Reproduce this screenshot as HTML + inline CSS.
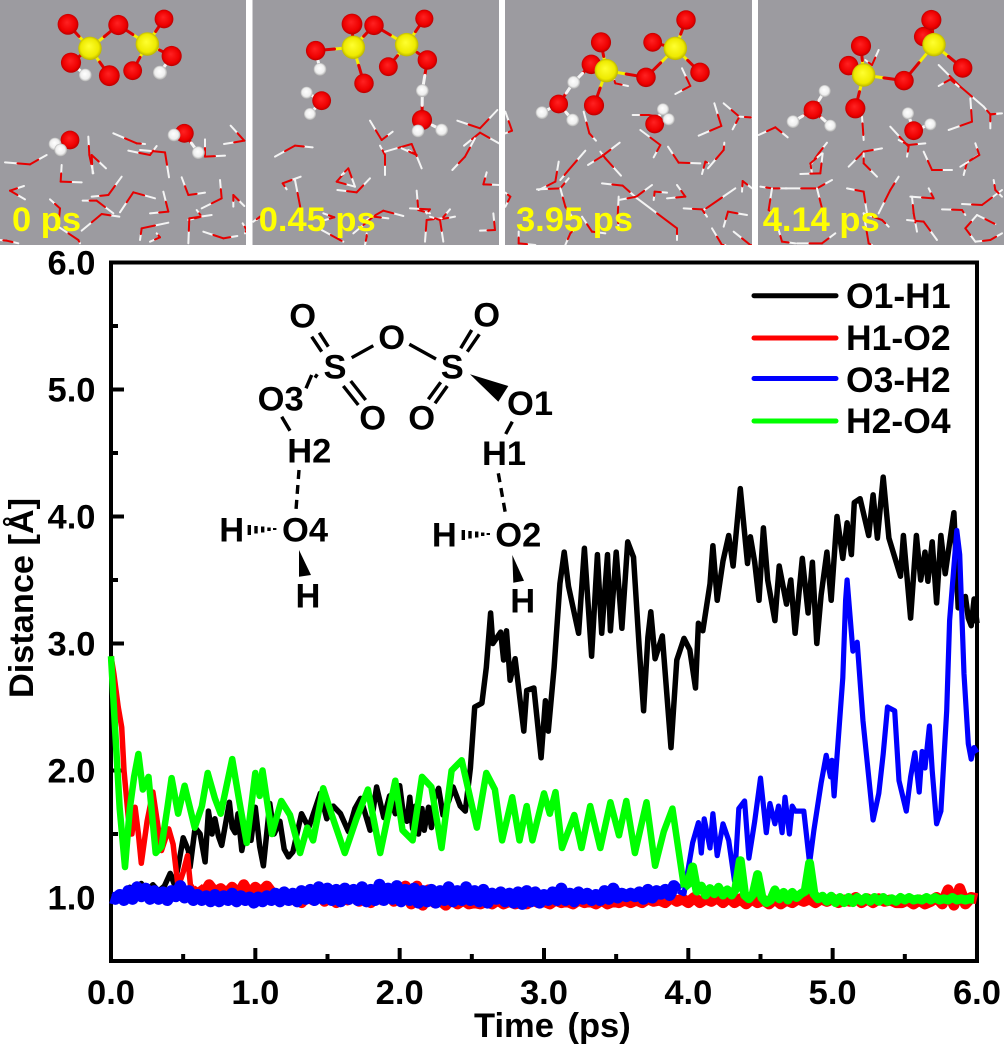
<!DOCTYPE html>
<html lang="en">
<head>
<meta charset="utf-8">
<title>Distance vs time with MD snapshots</title>
<style>
html,body{margin:0;padding:0;background:#fff;}
#stage{display:block;width:1004px;height:1046px;}
text{font-family:"Liberation Sans",sans-serif;font-weight:bold;fill:#000;}
</style>
</head>
<body>
<svg id="stage" xmlns="http://www.w3.org/2000/svg" width="1004" height="1046" viewBox="0 0 1004 1046">
<defs>
<radialGradient id="ballR" cx="0.5" cy="0.5" r="0.55" fx="0.45" fy="0.4"><stop offset="0" stop-color="#ff2222"/><stop offset="0.7" stop-color="#ee0000"/><stop offset="1" stop-color="#a80000"/></radialGradient>
<radialGradient id="ballY" cx="0.5" cy="0.5" r="0.55" fx="0.45" fy="0.4"><stop offset="0" stop-color="#ffff30"/><stop offset="0.7" stop-color="#eeea00"/><stop offset="1" stop-color="#a8a200"/></radialGradient>
<radialGradient id="ballW" cx="0.5" cy="0.5" r="0.55" fx="0.45" fy="0.4"><stop offset="0" stop-color="#ffffff"/><stop offset="0.65" stop-color="#eeeeee"/><stop offset="1" stop-color="#999999"/></radialGradient>
</defs>

<g id="panels"></g>

<g id="plot">
<rect x="111" y="262.5" width="866" height="698.5" fill="none" stroke="#000" stroke-width="4"/>
<g id="ticks"></g>
<g id="series"></g>
<text transform="translate(33 698) rotate(-90)" font-size="34.3">Distance [Å]</text>
<text x="474" y="1037" font-size="34.5" word-spacing="4">Time (ps)</text>
</g>

<g id="legend">
<line x1="754" y1="295.7" x2="836" y2="295.7" stroke="#000" stroke-width="5" stroke-linecap="round"/>
<text x="846" y="308" font-size="35.5">O1-H1</text>
<line x1="754" y1="338" x2="836" y2="338" stroke="#ff0000" stroke-width="5" stroke-linecap="round"/>
<text x="846" y="350" font-size="35.5">H1-O2</text>
<line x1="754" y1="378.5" x2="836" y2="378.5" stroke="#0000ff" stroke-width="5" stroke-linecap="round"/>
<text x="846" y="392" font-size="35.5">O3-H2</text>
<line x1="754" y1="421" x2="836" y2="421" stroke="#00ff00" stroke-width="5" stroke-linecap="round"/>
<text x="846" y="433" font-size="35.5">H2-O4</text>
</g>

<g id="structure" font-size="34.5" text-anchor="middle">
<g stroke="#000" stroke-width="3.4" fill="none">
<path d="M311.7 336.7L321.7 351.7M319.3 332.7L328.3 346.7M351.7 357.7L373.3 345.7M409.3 344.3L436 359M460.7 348.3L471.7 330M467.3 351.7L479.3 334.3M343.3 386L358.3 405M350.7 381L365.7 400M428.3 399.3L440.7 382.3M435 403.3L447.3 386M281.7 416.7L290 430.7M512.3 421.7L505.7 434"/>
<path d="M299 470L296 510M498.3 473.3L505.7 515" stroke-dasharray="9 6"/>
<path d="M306 388.3L311.7 375M315 377.7L317.3 374.3"/>
<path d="M249.3 525V535M256 526V533.5M262.7 526.5V532.5M269 527.5V531M274.7 528V530M463.3 530V540M470 531V538.5M476.7 531.5V537.5M482.7 532.5V536M488.3 533V535"/>
</g>
<polygon points="470,374.3 508.3,386 498.3,401.7" fill="#000"/>
<polygon points="299,550 299,576.7 311,575" fill="#000"/>
<polygon points="512.3,555 513.3,582.7 524,580.7" fill="#000"/>
<text x="302.7" y="327.5">O</text>
<text x="335" y="378.5">S</text>
<text x="391.7" y="349">O</text>
<text x="452.3" y="378.5">S</text>
<text x="486.7" y="326.5">O</text>
<text x="372.7" y="429.5">O</text>
<text x="421.7" y="429.5">O</text>
<text x="280.7" y="410.5">O3</text>
<text x="530" y="415">O1</text>
<text x="309.3" y="462.5">H2</text>
<text x="504" y="465">H1</text>
<text x="305" y="541.5">O4</text>
<text x="231.7" y="541.5">H</text>
<text x="308" y="607.5">H</text>
<text x="518.3" y="546.5">O2</text>
<text x="444.3" y="546.5">H</text>
<text x="522.7" y="612.5">H</text>
</g>

<script>
// ---------- chart data ----------
const xTickValues = [0, 1, 2, 3, 4, 5, 6];
const xTickLabels = ["0.0", "1.0", "2.0", "3.0", "4.0", "5.0", "6.0"];
const xMinorTicks = [0.5, 1.5, 2.5, 3.5, 4.5, 5.5];
const yTickValues = [1, 2, 3, 4, 5, 6];
const yTickLabels = ["1.0", "2.0", "3.0", "4.0", "5.0", "6.0"];
const yMinorTicks = [1.5, 2.5, 3.5, 4.5, 5.5];

const blackTimes = [
0.00,0.05,0.10,0.13,0.17,0.21,0.25,0.29,0.33,0.37,0.41,0.44,0.47,
0.50,0.536,0.548,0.583,0.617,0.652,0.675,0.70,0.72,0.745,0.767,0.82,0.84,0.86,0.88,0.906,0.94,0.97,1.00,1.03,1.056,1.10,1.13,1.17,1.20,1.23,1.26,1.32,1.37,1.45,1.495,1.54,1.59,1.645,1.69,1.73,1.795,1.84,1.89,1.93,1.97,
2.00,2.025,2.05,2.07,2.09,2.11,2.13,2.155,2.17,2.20,2.22,2.24,2.27,2.30,2.34,2.37,2.42,2.455,2.49,2.52,2.57,2.60,2.63,2.645,2.70,2.72,2.74,2.765,2.80,2.86,2.88,2.93,2.98,3.01,3.03,3.07,3.11,3.14,3.17,3.24,3.28,3.33,3.37,3.40,3.44,3.46,3.50,3.54,3.58,3.62,3.66,3.69,3.72,3.74,3.77,3.82,3.88,3.92,3.97,4.01,4.05,
4.07,4.10,4.15,4.17,4.20,4.24,4.28,4.31,4.36,4.41,4.43,4.46,4.49,4.52,4.55,4.60,4.63,4.68,4.71,4.74,4.79,4.83,4.86,4.89,4.92,4.96,4.99,5.03,5.07,5.10,5.13,5.15,5.19,5.25,5.28,5.31,5.35,5.39,5.47,5.49,5.54,5.58,5.61,5.64,5.66,5.69,5.72,5.75,5.78,5.84,5.87,5.92,5.94,5.96,5.98,6.00];
const blackValues = [
1.00,1.03,0.98,1.08,1.02,1.11,1.05,1.10,1.05,1.09,1.19,1.10,1.27,
1.47,1.37,1.24,1.55,1.50,1.28,1.68,1.50,1.62,1.48,1.41,1.75,1.55,1.51,1.66,1.37,1.58,1.45,1.71,1.40,1.25,1.74,1.50,1.60,1.38,1.32,1.36,1.66,1.55,1.82,1.62,1.72,1.66,1.52,1.70,1.78,1.53,1.87,1.63,1.80,1.66,
1.88,1.66,1.60,1.79,1.54,1.72,1.50,1.70,1.53,1.71,1.55,1.78,1.86,1.65,1.76,1.87,1.72,1.68,2.02,2.50,2.53,2.81,3.24,3.00,3.09,2.87,3.10,2.71,2.88,2.31,2.63,2.65,2.10,2.55,2.31,2.81,3.47,3.72,3.45,3.08,3.75,2.90,3.70,3.08,3.70,3.10,3.72,3.12,3.80,3.68,2.97,2.47,3.05,3.25,2.88,3.06,2.18,2.87,3.04,2.95,2.65,
3.16,3.10,3.47,3.77,3.34,3.65,3.85,3.61,4.22,3.63,3.84,3.64,3.34,3.91,3.50,3.18,3.61,3.31,3.50,3.08,3.67,3.24,3.64,3.00,3.38,3.72,3.34,4.00,3.67,3.95,3.70,4.11,4.14,3.85,4.17,3.83,4.31,3.83,3.53,3.85,3.20,3.85,3.50,3.72,3.49,3.80,3.32,3.85,3.55,4.03,3.28,3.37,3.20,3.14,3.35,3.16];

const redHeadTimes = [0,0.02,0.05,0.074,0.09,0.12,0.145,0.167,0.19,0.21,0.25,0.29,0.32,0.35,0.40,0.43,0.465,0.50,0.53,0.55,0.58,0.60];
const redHeadValues = [2.9,2.76,2.5,2.34,2.0,1.63,1.5,1.71,1.5,1.27,1.6,1.83,1.6,1.37,1.54,1.42,1.08,1.2,1.33,1.1,1.05,1.08];
const redBandStart = 0.6;
const redBandStep = 0.04;
const redBandValues = [
1.08,1.02,1.10,1.04,1.07,1.03,1.08,1.02,1.10,1.02,1.08,1.04,1.09,
1.03,0.98,1.04,0.98,1.02,0.96,1.01,0.98,1.03,0.97,1.02,0.96,1.03,0.98,1.02,0.97,1.03,0.96,1.02,0.98,1.03,0.97,1.02,
1.09,0.95,1.09,0.94,1.06,0.96,0.98,0.94,0.99,0.95,0.98,0.95,
0.96,0.95,0.97,0.95,0.98,0.95,0.97,0.95,0.96,0.95,0.98,0.96,0.97,0.95,0.98,0.96,0.97,0.95,0.98,0.96,0.97,0.95,0.98,0.95,0.97,0.96,0.98,0.96,0.98,0.96,0.99,0.97,0.98,0.96,1.0,0.97,0.99,
0.96,1.0,0.96,0.99,0.97,1.0,0.96,1.0,0.96,0.99,0.95,0.99,0.96,0.98,0.95,0.99,0.95,0.98,0.96,0.99,0.97,0.99,0.96,0.99,0.97,0.99,0.96,0.98,0.97,1.0,0.96,0.99,0.96,0.99,0.97,0.98,0.96,
0.96,0.98,0.95,0.98,0.95,0.97,
1.00,0.95,1.06,0.94,1.07,0.95,1.00,0.99];

const blueBandStep = 0.03;
const blueBandValues = [
1.00,0.99,1.02,0.98,1.05,0.99,1.08,1.01,1.07,0.99,1.05,0.99,1.04,0.98,1.05,1.01,1.09,1.00,1.05,0.98,
1.02,0.98,1.01,0.97,1.02,0.97,1.01,0.98,1.03,0.97,1.01,0.98,1.00,0.96,1.00,0.97,1.01,0.98,1.03,0.97,
1.04,0.98,1.03,0.97,1.05,0.99,1.06,0.98,1.08,0.99,1.07,0.98,1.06,0.97,1.07,0.99,1.06,0.98,1.08,0.97,
1.06,0.98,1.10,0.98,1.07,0.99,1.09,0.97,1.06,0.98,1.07,0.96,1.05,0.97,1.06,0.96,1.05,0.98,1.08,0.97,
1.05,0.98,1.08,0.98,1.05,0.97,1.06,0.96,1.03,0.99,1.04,0.97,1.03,0.96,1.04,0.95,1.05,0.97,1.04,0.96,
1.02,0.98,1.04,0.98,1.07,0.98,1.03,0.97,1.04,0.99,1.03,0.98,1.02,0.98,1.05,0.99,1.07,1.00,1.03,1.01,
1.03,1.01,1.04,0.99,1.06,1.00,1.05,1.03,1.06,1.02,1.09,1.05];
const blueTailTimes = [3.93,3.97,4.03,4.07,4.09,4.11,4.15,4.17,4.20,4.24,4.28,4.32,4.35,4.39,4.42,4.46,4.50,4.54,4.565,4.60,4.625,4.65,4.67,4.70,4.72,4.74,4.80,4.84,4.87,4.92,4.955,4.985,4.995,5.01,5.04,5.07,5.09,5.10,5.14,5.17,5.21,5.28,5.32,5.35,5.38,5.43,5.46,5.51,5.54,5.57,5.60,5.62,5.64,5.67,5.69,5.72,5.75,5.79,5.81,5.86,5.88,5.91,5.94,5.96,5.98,6.00];
const blueTailValues = [1.05,1.03,1.43,1.59,1.35,1.62,1.39,1.66,1.33,1.58,1.45,1.13,1.70,1.76,1.31,1.60,1.94,1.51,1.74,1.58,1.72,1.51,1.79,1.50,1.72,1.68,1.68,1.27,1.53,1.90,2.12,1.95,2.08,1.80,2.26,2.73,3.34,3.50,2.94,3.01,2.39,1.61,1.82,2.13,2.50,2.47,1.92,1.68,1.95,2.14,1.83,2.15,2.02,2.35,2.0,1.58,1.68,2.47,3.18,3.89,3.70,2.76,2.21,2.09,2.18,2.14];

const greenTimes = [
0.00,0.03,0.06,0.097,0.13,0.16,0.19,0.22,0.26,0.31,0.35,0.39,0.42,0.465,0.51,0.58,0.63,0.67,0.72,0.76,0.84,0.89,0.94,1.00,1.03,1.05,1.115,1.18,1.24,1.31,1.36,1.40,1.47,1.53,1.62,1.70,1.78,1.865,1.97,
2.02,2.09,2.155,2.22,2.29,2.36,2.43,2.535,2.60,2.66,2.71,2.78,2.83,2.88,2.92,3.00,3.04,3.08,3.125,3.21,3.26,3.32,3.39,3.46,3.52,3.57,3.63,3.71,3.77,3.83,3.89,3.97];
const greenValues = [
2.90,2.30,1.70,1.24,1.70,1.95,2.13,1.85,1.95,1.35,1.40,1.70,1.94,1.66,1.88,1.55,1.72,1.98,1.78,1.66,2.09,1.75,1.43,1.98,1.80,2.00,1.50,1.76,1.65,1.35,1.55,1.45,1.86,1.65,1.35,1.62,1.85,1.35,1.92,
1.53,1.45,1.95,1.87,1.39,2.00,2.08,1.55,1.98,1.85,1.45,1.79,1.45,1.72,1.45,1.82,1.66,1.83,1.39,1.65,1.39,1.72,1.39,1.75,1.49,1.76,1.35,1.75,1.25,1.52,1.70,1.08];
const greenBandStart = 3.97;
const greenBandStep = 0.03;
const greenBandValues = [
1.08,1.11,1.24,1.05,1.09,1.02,1.07,1.03,1.08,1.02,
1.06,1.02,1.07,1.29,1.02,0.99,1.03,1.18,1.00,0.96,
0.98,1.06,0.99,1.04,0.98,1.04,1.00,1.03,1.05,1.27,
1.03,0.99,1.01,0.97,1.01,0.96,1.00,0.96,1.00,0.96,
1.00,0.97,1.00,0.97,1.00,0.97,1.00,0.97,0.99,0.97,
1.00,0.98,1.00,0.98,0.99,0.98,1.00,0.98,1.00,0.98,
0.99,0.98,1.00,0.98,0.99,0.98,0.99,0.985];

// ---------- axis functions ----------
const svgNS = "http://www.w3.org/2000/svg";
function xScale(t){ return 111 + t * 144.33; }
function yScale(v){ return 897.5 - (v - 1) * 127; }
function mk(tag){ return document.createElementNS(svgNS, tag); }
function bandTimes(start, step, values){ return values.map(function(_, i){ return start + i * step; }); }
function pathFrom(times, values){
  return times.map(function(t, i){ return (i ? "L" : "M") + xScale(t).toFixed(1) + " " + yScale(values[i]).toFixed(1); }).join("");
}

// ---------- ticks ----------
const tickGroup = document.getElementById("ticks");
xTickValues.forEach(function(v, i){
  const t = mk("line");
  
  
  t.setAttribute("x1", xScale(v)); t.setAttribute("x2", xScale(v));
  t.setAttribute("y1", 961); t.setAttribute("y2", 948);
  t.setAttribute("stroke", "#000"); t.setAttribute("stroke-width", 4);
  tickGroup.appendChild(t);
  const l = mk("text");
  
  
  l.setAttribute("x", xScale(v)); l.setAttribute("y", 1004);
  l.setAttribute("font-size", 34.5); l.setAttribute("text-anchor", "middle");
  l.textContent = xTickLabels[i];
  tickGroup.appendChild(l);
});
xMinorTicks.forEach(function(v){
  const t = mk("line");
  
  
  t.setAttribute("x1", xScale(v)); t.setAttribute("x2", xScale(v));
  t.setAttribute("y1", 961); t.setAttribute("y2", 954);
  t.setAttribute("stroke", "#000"); t.setAttribute("stroke-width", 4);
  tickGroup.appendChild(t);
});
yTickValues.forEach(function(v, i){
  const t = mk("line");
  
  
  t.setAttribute("x1", 111); t.setAttribute("x2", 124);
  t.setAttribute("y1", yScale(v)); t.setAttribute("y2", yScale(v));
  t.setAttribute("stroke", "#000"); t.setAttribute("stroke-width", 4);
  tickGroup.appendChild(t);
  const l = mk("text");
  
  
  l.setAttribute("x", 95.5); l.setAttribute("y", yScale(v) + 12);
  l.setAttribute("font-size", 34.5); l.setAttribute("text-anchor", "end");
  l.textContent = yTickLabels[i];
  tickGroup.appendChild(l);
});
yMinorTicks.forEach(function(v){
  const t = mk("line");
  
  
  t.setAttribute("x1", 111); t.setAttribute("x2", 118);
  t.setAttribute("y1", yScale(v)); t.setAttribute("y2", yScale(v));
  t.setAttribute("stroke", "#000"); t.setAttribute("stroke-width", 4);
  tickGroup.appendChild(t);
});

// ---------- series ----------
const seriesGroup = document.getElementById("series");
function styleLine(p, color, width){
  p.setAttribute("fill", "none");
  p.setAttribute("stroke", color);
  p.setAttribute("stroke-width", width);
  p.setAttribute("stroke-linejoin", "round");
  p.setAttribute("stroke-linecap", "butt");
  seriesGroup.appendChild(p);
}
const blackLine = mk("path");


blackLine.setAttribute("d", pathFrom(blackTimes, blackValues));
styleLine(blackLine, "#000000", 5.5);

const redHead = mk("path");


redHead.setAttribute("d", pathFrom(redHeadTimes, redHeadValues));
styleLine(redHead, "#ff0000", 5.5);

const redBand = mk("path");


redBand.setAttribute("d", pathFrom(bandTimes(redBandStart, redBandStep, redBandValues), redBandValues));
styleLine(redBand, "#ff0000", 11);

const blueBand = mk("path");


blueBand.setAttribute("d", pathFrom(bandTimes(0, blueBandStep, blueBandValues), blueBandValues));
styleLine(blueBand, "#0000ff", 12);

const blueTail = mk("path");


blueTail.setAttribute("d", pathFrom(blueTailTimes, blueTailValues));
styleLine(blueTail, "#0000ff", 5.2);

const greenLine = mk("path");


greenLine.setAttribute("d", pathFrom(greenTimes, greenValues));
styleLine(greenLine, "#00ff00", 6.5);

const greenBand = mk("path");


greenBand.setAttribute("d", pathFrom(bandTimes(greenBandStart, greenBandStep, greenBandValues), greenBandValues));
styleLine(greenBand, "#00ff00", 9);

// ---------- MD snapshot panels (illustration; coordinates in 3x reference units) ----------
const panelDefs = [
 {x:0, w:246, ox:0, label:"0 ps", lx:12,
  waters:[[15,487,90,493,140,465],[340,400,410,430,435,432],[385,452,450,465,470,438],[420,450,495,457,507,532],[265,410,268,465,280,520],[318,505,275,465,278,520],[185,495,182,545,245,547],[75,598,30,572,72,558],[692,377,733,422,672,432],[615,418,615,470,675,467],[545,532,565,585,615,578],[660,540,665,595,605,625],[365,530,325,585,275,590],[248,602,290,602,340,640],[465,595,400,577,360,637],[358,650,305,642,245,692],[490,575,505,635,450,640],[150,598,180,625,175,680],[700,620,700,585,733,618],[590,630,605,650,565,660],[565,730,568,655,635,645],[610,695,670,715,712,708],[420,720,425,685,505,668],[450,725,480,712,470,700],[728,670,740,690,735,700],[175,680,235,720,240,730],[0,720,20,722,55,730]],
  bonds:[[270,145,204,73,"yr"],[270,145,355,75,"yr"],[270,145,213,188,"yr"],[270,145,328,227,"yr"],[442,132,355,75,"yr"],[442,132,492,57,"yr"],[442,132,398,212,"yr"],[442,132,515,168,"yr"],[213,188,256,225,"rw"],[515,168,480,218,"rw"],[210,420,165,432,"rw"],[210,420,182,450,"rw"],[553,400,522,405,"rw"],[553,400,595,458,"rw"]],
  red:[[204,73,30],[355,75,29],[492,57,27],[213,188,29],[328,227,30],[398,212,27],[515,168,29],[210,420,27],[553,400,27]],
  yellow:[[270,145,34],[442,132,34]],
  white:[[256,225,18],[480,218,20],[165,432,18],[182,450,18],[522,405,18],[595,458,18]]},
 {x:252.5, w:246.5, ox:0, label:"0.45 ps", lx:258.7,
  waters:[[825,470,885,437,938,442],[1110,362,1145,420,1178,395],[1140,437,1155,465,1155,525],[1155,455,1235,432,1265,505],[1205,445,1250,465,1225,450],[1372,362,1440,385,1492,330],[1392,437,1440,398,1497,430],[1357,510,1395,470,1425,415],[1110,535,1070,577,1012,570],[1045,505,1010,545,1065,560],[1025,525,1045,505,1065,560],[1460,517,1450,553,1497,555],[902,530,848,550,860,568],[885,540,900,617,905,650],[1250,572,1255,630,1290,640],[1230,625,1290,628,1280,640],[1350,628,1325,657,1365,650],[1275,725,1280,660,1325,655],[1330,725,1320,660,1290,650],[1210,648,1150,632,1100,660],[1165,655,1120,650,1060,700],[760,665,780,650,770,660],[965,690,1020,720,1030,725],[970,640,1003,652,975,660],[1440,692,1485,690,1480,640],[1095,735,1100,710,1100,700]],
  bonds:[[1060,142,1056,72,"yr"],[1060,142,1122,76,"yr"],[1060,142,947,152,"yr"],[1060,142,1092,250,"yr"],[1220,134,1122,76,"yr"],[1220,134,1273,56,"yr"],[1220,134,1282,180,"yr"],[1220,134,1165,200,"yr"],[947,152,960,208,"rw"],[1282,180,1267,272,"rw"],[1266,360,1267,272,"rw"],[965,302,920,278,"rw"],[965,302,930,342,"rw"],[1266,360,1254,393,"rw"],[1266,360,1325,390,"rw"]],
  red:[[1056,72,30],[1122,76,28],[1273,56,26],[947,152,28],[1282,180,28],[1165,200,27],[1092,250,28],[965,302,27],[1266,360,29]],
  yellow:[[1060,142,34],[1220,134,34]],
  white:[[960,208,18],[1267,272,18],[920,278,17],[930,342,17],[1254,393,18],[1325,390,18]]},
 {x:505, w:247, ox:502, label:"3.95 ps", lx:516,
  waters:[[378,258,340,250,335,235],[520,282,565,258,540,205],[245,335,262,400,282,422],[392,345,440,345,470,350],[415,390,475,435,455,472],[498,440,530,488,595,490],[600,522,610,485,620,490],[618,505,665,450,667,428],[590,407,658,378,637,310],[665,310,712,350,692,388],[712,350,745,352,748,352],[353,428,298,470,258,495],[295,455,310,475,357,527],[250,452,200,510,175,540],[170,485,160,545,110,570],[105,568,175,565,200,535],[175,565,190,620,210,650],[300,550,362,557,405,595],[450,555,403,590,350,600],[350,590,347,650,350,690],[405,595,525,685,525,720],[455,600,458,575,495,578],[525,555,550,590,495,595],[700,565,620,620,605,630],[615,650,600,628,545,625],[665,680,678,635,735,645],[720,575,722,543,750,565],[10,335,30,392,10,400],[10,620,25,590,10,578],[240,650,270,695,310,700],[50,695,50,730,100,735],[190,735,205,700,215,690],[630,685,660,735,670,735],[695,695,745,735,750,735]],
  bonds:[[313,212,297,127,"yr"],[313,212,268,193,"yr"],[313,212,276,316,"yr"],[313,212,432,232,"yr"],[520,145,432,232,"yr"],[520,145,452,127,"yr"],[520,145,552,60,"yr"],[520,145,594,217,"yr"],[268,193,215,247,"rw"],[170,312,215,247,"rw"],[170,312,120,338,"rw"],[170,312,212,360,"rw"],[458,372,483,328,"rw"],[458,372,500,358,"rw"]],
  red:[[297,127,29],[268,193,28],[276,316,29],[432,232,28],[452,127,27],[552,60,28],[594,217,28],[170,312,27],[458,372,27]],
  yellow:[[313,212,34],[520,145,34]],
  white:[[215,247,18],[120,338,18],[212,360,18],[483,328,17],[500,358,17]]},
 {x:758, w:246, ox:502, label:"4.14 ps", lx:762.7,
  waters:[[1130,150,1110,195,1090,180],[1310,195,1375,260,1445,320],[1310,258,1345,238,1370,260],[1445,320,1465,343,1500,340],[1465,385,1465,343,1495,340],[1405,295,1410,365,1340,390],[770,405,820,382,857,412],[1080,350,1083,390,1085,420],[1165,380,1220,440,1215,470],[1190,420,1220,435,1270,430],[1265,455,1290,510,1350,510],[1385,525,1395,487,1430,465],[1420,430,1432,465,1375,500],[1140,445,1085,455,1040,500],[1085,460,1085,490,1125,530],[975,428,950,460,925,495],[960,460,925,490,930,520],[895,522,955,520,962,460],[990,540,945,565,850,565],[775,560,810,565,855,565],[810,565,800,630,805,635],[945,565,960,625,965,650],[1035,565,1085,575,1095,640],[1085,640,1140,660,1160,680],[1190,530,1165,570,1130,640],[1280,565,1295,595,1225,590],[1230,590,1235,640,1245,695],[1215,660,1265,665,1305,720],[1380,612,1440,615,1500,570],[1320,628,1380,630,1390,645],[1475,540,1480,570,1500,590],[1425,645,1390,685,1420,725],[1425,645,1475,670,1480,672],[1420,725,1465,720,1500,700],[830,690,840,725,880,730],[885,730,960,730,1000,700],[1085,640,1100,730,1110,735]],
  bonds:[[1085,225,1077,138,"yr"],[1085,225,1040,197,"yr"],[1085,225,1060,325,"yr"],[1085,225,1206,242,"yr"],[1296,134,1206,242,"yr"],[1296,134,1265,110,"yr"],[1296,134,1288,60,"yr"],[1296,134,1382,204,"yr"],[933,330,968,273,"rw"],[933,330,873,365,"rw"],[933,330,985,377,"rw"],[1235,392,1218,340,"rw"],[1235,392,1285,373,"rw"]],
  red:[[1077,138,29],[1040,197,28],[1060,325,29],[1206,242,28],[1265,110,28],[1288,60,29],[1382,204,28],[933,330,27],[1235,392,27]],
  yellow:[[1085,225,34],[1296,134,34]],
  white:[[968,273,17],[873,365,18],[985,377,17],[1218,340,17],[1285,373,17]]}
];
const panelsGroup = document.getElementById("panels");
panelDefs.forEach(function(pd){
  const holder = mk("svg");
  
  
  holder.setAttribute("x", pd.x); holder.setAttribute("y", 0);
  holder.setAttribute("width", pd.w); holder.setAttribute("height", 245);
  holder.setAttribute("viewBox", pd.x + " 0 " + pd.w + " 245");
  const bg = mk("rect");
  
  
  bg.setAttribute("x", pd.x); bg.setAttribute("y", 0);
  bg.setAttribute("width", pd.w); bg.setAttribute("height", 245);
  bg.setAttribute("fill", "#9c9ba0");
  holder.appendChild(bg);
  function X(v){ return v / 3 + pd.ox; }
  function Y(v){ return v / 3; }
  function seg(x1, y1, x2, y2, color, width){
    const s = mk("line");
    
    
    s.setAttribute("x1", X(x1)); s.setAttribute("y1", Y(y1));
    s.setAttribute("x2", X(x2)); s.setAttribute("y2", Y(y2));
    s.setAttribute("stroke", color); s.setAttribute("stroke-width", width);
    s.setAttribute("stroke-linecap", "round");
    holder.appendChild(s);
  }
  pd.waters.forEach(function(w){
    const m1x = (w[0] + w[2]) / 2, m1y = (w[1] + w[3]) / 2;
    const m2x = (w[4] + w[2]) / 2, m2y = (w[5] + w[3]) / 2;
    seg(w[0], w[1], m1x, m1y, "#f4f4f4", 2);
    seg(w[4], w[5], m2x, m2y, "#f4f4f4", 2);
    seg(m1x, m1y, w[2], w[3], "#e60000", 2);
    seg(m2x, m2y, w[2], w[3], "#e60000", 2);
  });
  pd.bonds.forEach(function(b){
    const mx = (b[0] + b[2]) / 2, my = (b[1] + b[3]) / 2;
    const a = b[4] === "yr" ? "#f5f000" : "#e00000";
    const c = b[4] === "yr" ? "#e00000" : "#f4f4f4";
    seg(b[0], b[1], mx, my, a, 3);
    seg(mx, my, b[2], b[3], c, 3);
  });
  function ball(list, fill, name){
    list.forEach(function(a){
      const c = mk("circle");
      
      
      c.setAttribute("cx", X(a[0])); c.setAttribute("cy", Y(a[1]));
      c.setAttribute("r", a[2] / 3 + 0.4);
      c.setAttribute("fill", fill);
      holder.appendChild(c);
    });
  }
  ball(pd.red, "url(#ballR)", "oxygen-atom");
  ball(pd.yellow, "url(#ballY)", "sulfur-atom");
  ball(pd.white, "url(#ballW)", "hydrogen-atom");
  const label = mk("text");
  
  
  label.setAttribute("x", pd.lx); label.setAttribute("y", 231);
  label.setAttribute("font-size", 34.5);
  label.setAttribute("style", "fill:#ffff00");
  label.textContent = pd.label;
  holder.appendChild(label);
  panelsGroup.appendChild(holder);
});
</script>
</svg>
</body>
</html>
